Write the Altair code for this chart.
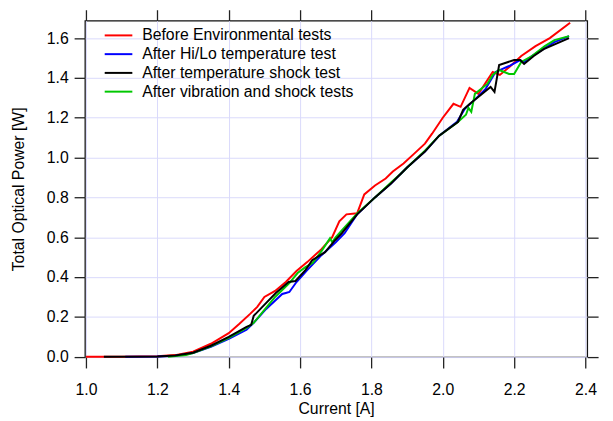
import altair as alt
import pandas as pd

series_names = [
    "Before Environmental tests",
    "After Hi/Lo temperature test",
    "After temperature shock test",
    "After vibration and shock tests",
]
series_colors = ["#ff0000", "#0000ff", "#000000", "#00c800"]
draw_order = [0, 1, 3, 2]  # red, blue, green, black on top

x_ticks = [1.0, 1.2, 1.4, 1.6, 1.8, 2.0, 2.2, 2.4]
y_ticks = [0.0, 0.2, 0.4, 0.6, 0.8, 1.0, 1.2, 1.4, 1.6]

red_x = [1.00, 1.10, 1.20, 1.25, 1.30, 1.35, 1.40, 1.43, 1.46, 1.48, 1.50, 1.53,
         1.56, 1.59, 1.62, 1.66, 1.69, 1.71, 1.73, 1.76, 1.78, 1.81, 1.84, 1.86,
         1.89, 1.92, 1.95, 1.97, 2.00, 2.03, 2.05, 2.075, 2.10, 2.14, 2.16, 2.19,
         2.22, 2.26, 2.30, 2.357]
red_y = [0.00, 0.00, 0.002, 0.008, 0.025, 0.065, 0.118, 0.165, 0.215, 0.25, 0.30, 0.33,
         0.375, 0.43, 0.475, 0.54, 0.60, 0.68, 0.715, 0.72, 0.815, 0.86, 0.895, 0.93,
         0.97, 1.02, 1.07, 1.12, 1.20, 1.27, 1.255, 1.35, 1.32, 1.43, 1.415, 1.46,
         1.51, 1.56, 1.60, 1.677]

blue_x = [1.11, 1.20, 1.25, 1.30, 1.35, 1.40, 1.45, 1.47, 1.505, 1.55, 1.56, 1.57,
          1.59, 1.62, 1.66, 1.70, 1.725, 1.76, 1.81, 1.855, 1.90, 1.95, 1.99, 2.04,
          2.062, 2.092, 2.12, 2.148, 2.186, 2.217, 2.228, 2.25, 2.286, 2.313, 2.354]
blue_y = [0.00, 0.001, 0.005, 0.018, 0.05, 0.09, 0.135, 0.17, 0.24, 0.315, 0.32, 0.325,
          0.375, 0.435, 0.51, 0.575, 0.62, 0.715, 0.80, 0.87, 0.95, 1.03, 1.11, 1.18,
          1.245, 1.295, 1.345, 1.43, 1.46, 1.49, 1.48, 1.51, 1.55, 1.58, 1.61]

black_x = [1.05, 1.20, 1.25, 1.30, 1.35, 1.40, 1.45, 1.463, 1.47, 1.497, 1.532, 1.568,
           1.587, 1.615, 1.634, 1.67, 1.698, 1.717, 1.76, 1.81, 1.855, 1.90, 1.95, 1.99,
           2.043, 2.057, 2.076, 2.09, 2.134, 2.145, 2.158, 2.20, 2.217, 2.228, 2.255,
           2.283, 2.354]
black_y = [0.00, 0.001, 0.006, 0.02, 0.055, 0.10, 0.15, 0.16, 0.205, 0.255, 0.32, 0.375,
           0.38, 0.435, 0.485, 0.525, 0.585, 0.62, 0.715, 0.80, 0.87, 0.95, 1.03, 1.11,
           1.18, 1.24, 1.27, 1.29, 1.355, 1.33, 1.465, 1.49, 1.49, 1.47, 1.51,
           1.545, 1.60]

green_x = [1.23, 1.28, 1.30, 1.35, 1.40, 1.45, 1.47, 1.50, 1.53, 1.57, 1.593, 1.615,
           1.635, 1.66, 1.684, 1.69, 1.70, 1.76, 1.81, 1.855, 1.88, 1.90, 1.95, 1.99,
           2.04, 2.065, 2.072, 2.08, 2.09, 2.125, 2.14, 2.158, 2.186, 2.20, 2.22, 2.25,
           2.286, 2.313, 2.354]
green_y = [0.00, 0.008, 0.018, 0.052, 0.095, 0.145, 0.17, 0.235, 0.30, 0.37, 0.42, 0.45,
           0.47, 0.53, 0.595, 0.575, 0.60, 0.72, 0.80, 0.875, 0.915, 0.95, 1.035, 1.11,
           1.175, 1.215, 1.25, 1.23, 1.32, 1.37, 1.415, 1.44, 1.42, 1.42, 1.48, 1.51,
           1.56, 1.59, 1.61]

all_x = [red_x, blue_x, black_x, green_x]
all_y = [red_y, blue_y, black_y, green_y]

rows = []
for name, xs, ys in zip(series_names, all_x, all_y):
    for i, (xv, yv) in enumerate(zip(xs, ys)):
        rows.append({"current": xv, "power": yv, "series": name, "idx": i})
df = pd.DataFrame(rows)

FONT = "Liberation Sans"
FS = 16
x_scale = alt.Scale(domain=[0.997, 2.405], nice=False, zero=False)
y_scale = alt.Scale(domain=[-0.002, 1.688], nice=False, zero=False)
color_scale = alt.Scale(domain=series_names, range=series_colors)

legend = alt.Legend(
    title=None, orient="none", legendX=26, legendY=7,
    symbolType="M-2.8,0H2.8", symbolSize=100, symbolStrokeWidth=2,
    symbolFillColor="transparent",
    labelFont=FONT, labelFontSize=FS, labelColor="#000",
    labelOffset=16, rowPadding=3, padding=0, labelLimit=400,
)

base = alt.Chart(df)

line_layers = []
for k in draw_order:
    name = series_names[k]
    line_layers.append(
        base.transform_filter(alt.datum.series == name)
        .mark_line(strokeWidth=2)
        .encode(
            x=alt.X("current:Q", scale=x_scale, axis=None),
            y=alt.Y("power:Q", scale=y_scale, axis=None),
            color=alt.Color("series:N", scale=color_scale, legend=legend),
            order=alt.Order("idx:Q"),
        )
    )

axis_common = dict(
    tickColor="#222", tickWidth=1.3, tickSize=11, domain=False,
    labelFont=FONT, labelFontSize=FS, labelColor="#000",
    titleFont=FONT, titleFontSize=FS, titleFontWeight="normal", titleColor="#000",
    gridColor="#d9d9fb", gridWidth=1,
)

axes_main = base.mark_point(opacity=0).encode(
    x=alt.X("current:Q", scale=x_scale,
            axis=alt.Axis(orient="bottom", values=x_ticks, format=".1f",
                          title="Current [A]", labelPadding=14, titlePadding=3,
                          grid=True, **axis_common)),
    y=alt.Y("power:Q", scale=y_scale,
            axis=alt.Axis(orient="left", values=y_ticks, format=".1f",
                          title="Total Optical Power [W]", labelPadding=6,
                          titlePadding=20, grid=True, **axis_common)),
)

axes_mirror = base.mark_point(opacity=0).encode(
    x=alt.X("current:Q", scale=x_scale,
            axis=alt.Axis(orient="top", values=x_ticks, labels=False, title=None,
                          grid=False, **axis_common)),
    y=alt.Y("power:Q", scale=y_scale,
            axis=alt.Axis(orient="right", values=y_ticks, labels=False, title=None,
                          grid=False, **axis_common)),
)

chart = (
    alt.layer(axes_main, axes_mirror, *line_layers)
    .resolve_axis(x="independent", y="independent")
    .properties(
        width=509, height=341,
        autosize=alt.AutoSizeParams(type="none"),
        padding={"left": 78, "top": 10, "right": 18, "bottom": 62},
        background="white",
    )
    .configure_view(stroke="#111", strokeWidth=1.3)
)

chart.save("out.html", embed_options={"renderer": "svg", "actions": False})
